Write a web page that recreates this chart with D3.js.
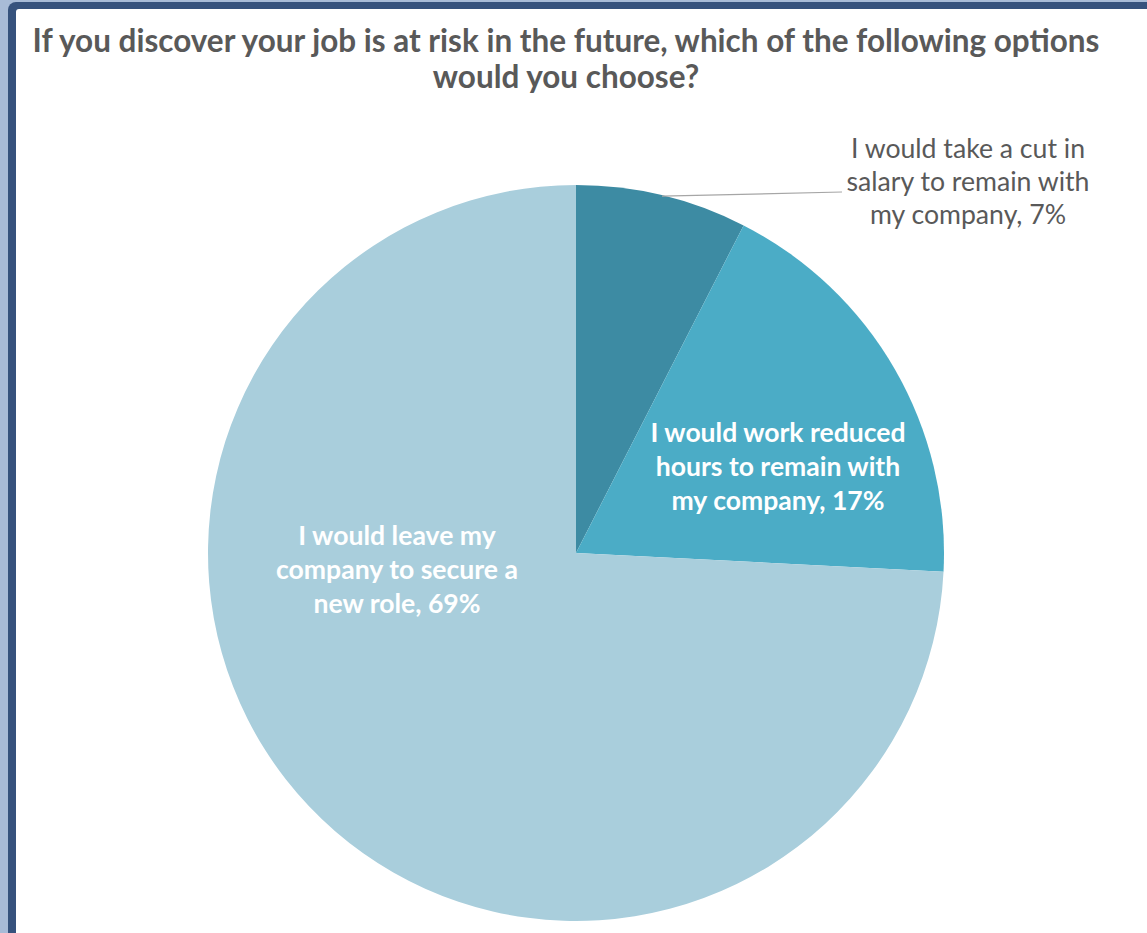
<!DOCTYPE html>
<html>
<head>
<meta charset="utf-8">
<script src="https://cdn.jsdelivr.net/npm/d3@7"></script>
<style>
  html, body { margin: 0; padding: 0; background: #fff; }
  svg { display: block; }
</style>
</head>
<body>
<svg id="chart" width="1147" height="933"></svg>
<script>
// Survey answers, in drawing order (clockwise from 12 o'clock)
const categories = [
  "I would take a cut in salary to remain with my company",
  "I would work reduced hours to remain with my company",
  "I would leave my company to secure a new role"
];
const values = [7, 17, 69];
const sliceColors = ["#3D8BA3", "#4BACC6", "#A9CEDC"];

// Wrapped label lines for each slice
const labelLines = [
  ["I would take a cut in", "salary to remain with", "my company, 7%"],
  ["I would work reduced", "hours to remain with", "my company, 17%"],
  ["I would leave my", "company to secure a", "new role, 69%"]
];
const titleLines = [
  "If you discover your job is at risk in the future, which of the following options",
  "would you choose?"
];

const W = 1147, H = 933;
const svg = d3.select("#chart");
const FONT = "Lato, 'Open Sans', sans-serif";

// Window frame around the chart area
svg.append("rect").attr("x", 0).attr("y", 0).attr("width", W).attr("height", H).attr("fill", "#A8BBD7");
svg.append("rect").attr("x", 8).attr("y", 2).attr("width", W + 40).attr("height", H + 40)
  .attr("rx", 8).attr("fill", "#36527D");
svg.append("rect").attr("x", 16).attr("y", 9).attr("width", W + 40).attr("height", H + 40)
  .attr("rx", 3).attr("fill", "#FFFFFF");

// Fit a block of lines so the widest one spans targetWidth; one <text> per line
function fitLines(g, lines, opts) {
  const texts = g.selectAll("text").data(lines).join("text")
    .attr("font-family", FONT)
    .attr("font-weight", opts.weight)
    .attr("font-size", 20)
    .attr("fill", opts.color)
    .attr("text-anchor", "middle")
    .attr("x", opts.cx)
    .attr("y", (d, i) => opts.y0 + i * opts.lh)
    .text(d => d);
  let maxW = 0;
  texts.each(function () { maxW = Math.max(maxW, this.getComputedTextLength()); });
  const size = 20 * opts.targetWidth / maxW;
  texts.attr("font-size", size.toFixed(2));
  return texts;
}

// Title
fitLines(svg.append("g"), titleLines, {
  cx: 566, y0: 52, lh: 36, weight: 700, color: "#595959", targetWidth: 1067
});

// Pie
const cx = 576, cy = 553, r = 368;
const pie = d3.pie().sort(null).value(d => d)
  .startAngle(0).endAngle(2 * Math.PI);
const arcs = pie(values);
const arc = d3.arc().innerRadius(0).outerRadius(r);

const g = svg.append("g").attr("transform", `translate(${cx},${cy})`);
g.selectAll("path.slice").data(arcs).join("path")
  .attr("class", "slice")
  .attr("d", arc)
  .attr("fill", (d, i) => sliceColors[i]);

// Leader line from the middle of the small slice to its outside label
const a0 = arcs[0];
const midAngle = (a0.startAngle + a0.endAngle) / 2;
const px = Math.sin(midAngle) * (r - 1) + cx;
const py = -Math.cos(midAngle) * (r - 1) + cy;
svg.append("path")
  .attr("d", `M${px},${py} L842,192`)
  .attr("stroke", "#A6A6A6")
  .attr("stroke-width", 1.2)
  .attr("fill", "none");

// Outside label for the small slice
fitLines(svg.append("g"), labelLines[0], {
  cx: 968, y0: 158, lh: 33, weight: 400, color: "#595959", targetWidth: 243
});

// Inside labels
fitLines(svg.append("g"), labelLines[1], {
  cx: 778, y0: 442, lh: 34, weight: 700, color: "#FFFFFF", targetWidth: 255
});
fitLines(svg.append("g"), labelLines[2], {
  cx: 397, y0: 545, lh: 34, weight: 700, color: "#FFFFFF", targetWidth: 242
});
</script>
</body>
</html>
